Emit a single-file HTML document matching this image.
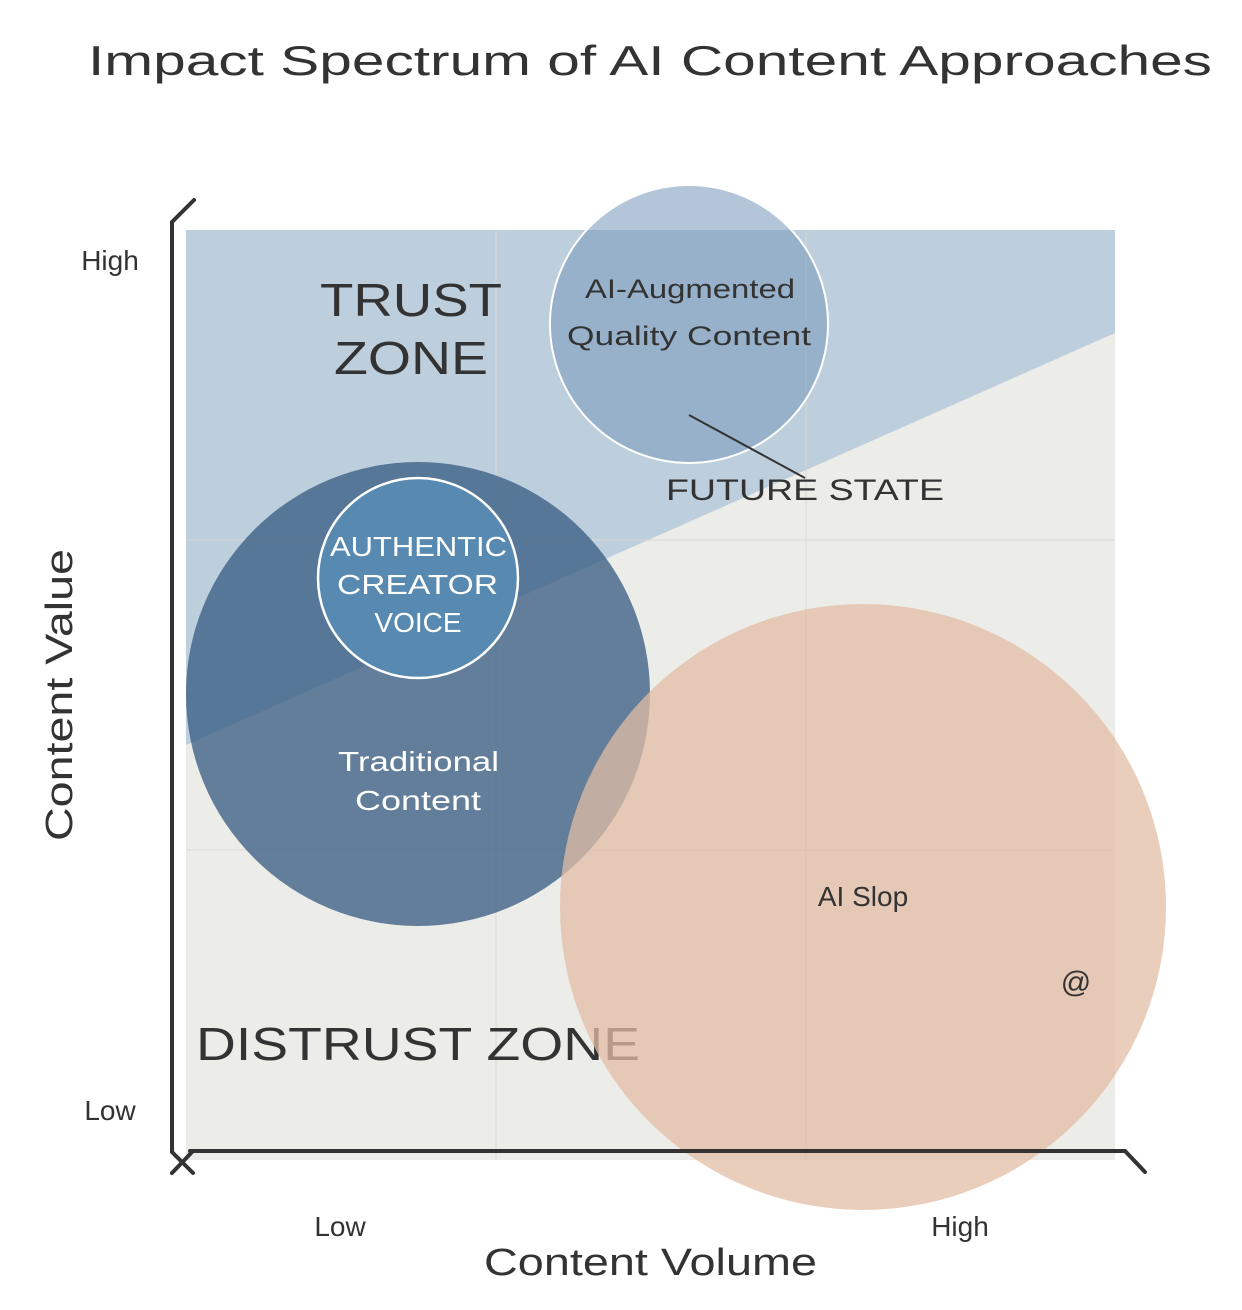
<!DOCTYPE html>
<html><head><meta charset="utf-8"><style>
html,body{margin:0;padding:0;background:#fff;}
svg{display:block;}
text{font-family:"Liberation Sans",sans-serif;fill:#333;}
</style></head><body>
<svg width="1242" height="1310" viewBox="0 0 1242 1310" xmlns="http://www.w3.org/2000/svg">
<rect x="0" y="0" width="1242" height="1310" fill="#fff"/>
<text x="88" y="75" font-size="42" textLength="1124" lengthAdjust="spacingAndGlyphs">Impact Spectrum of AI Content Approaches</text>
<rect x="186" y="230" width="929" height="930" fill="#ecece8"/>
<polygon points="186,230 1115,230 1115,333 186,745" fill="#bdcedd"/>
<g stroke="#d8d8d4" stroke-width="1">
<line x1="496" y1="230" x2="496" y2="1160"/><line x1="806" y1="230" x2="806" y2="1160"/>
<line x1="186" y1="540" x2="1115" y2="540"/><line x1="186" y1="850" x2="1115" y2="850"/>
</g>
<text x="320" y="316" font-size="46" textLength="182" lengthAdjust="spacingAndGlyphs">TRUST</text>
<text x="334" y="374" font-size="46" textLength="154" lengthAdjust="spacingAndGlyphs">ZONE</text>
<text x="196" y="1060" font-size="46" textLength="444" lengthAdjust="spacingAndGlyphs">DISTRUST ZONE</text>
<circle cx="689" cy="324" r="139" fill="#7f9fbf" fill-opacity="0.6" stroke="#fff" stroke-width="2"/>
<text x="585" y="298" font-size="27" textLength="210" lengthAdjust="spacingAndGlyphs">AI-Augmented</text>
<text x="567" y="345" font-size="27" textLength="244" lengthAdjust="spacingAndGlyphs">Quality Content</text>
<line x1="689" y1="415" x2="805" y2="478" stroke="#333" stroke-width="2"/>
<text x="666" y="500" font-size="30" textLength="278" lengthAdjust="spacingAndGlyphs">FUTURE STATE</text>
<circle cx="418" cy="694" r="232" fill="#345a80" fill-opacity="0.75"/>
<circle cx="418" cy="578" r="100" fill="#5889b0" stroke="#fff" stroke-width="2.5"/>
<text x="330" y="556" font-size="28" textLength="177" lengthAdjust="spacingAndGlyphs" style="fill:#fff">AUTHENTIC</text>
<text x="337" y="594" font-size="28" textLength="161" lengthAdjust="spacingAndGlyphs" style="fill:#fff">CREATOR</text>
<text x="418" y="632" font-size="28" text-anchor="middle" style="fill:#fff">VOICE</text>
<text x="338" y="771" font-size="28" textLength="161" lengthAdjust="spacingAndGlyphs" style="fill:#fff">Traditional</text>
<text x="355" y="810" font-size="28" textLength="126" lengthAdjust="spacingAndGlyphs" style="fill:#fff">Content</text>
<circle cx="863" cy="907" r="303" fill="#e3bda5" fill-opacity="0.75"/>
<text x="863" y="906" font-size="28" text-anchor="middle">AI Slop</text>
<text x="1076" y="992" font-size="30" text-anchor="middle">@</text>
<g stroke="#333" stroke-width="4" fill="none" stroke-linecap="round">
<polyline points="194,200 172,222 172,1152 193,1173"/>
<line x1="172" y1="1173" x2="193" y2="1151"/>
<polyline points="190,1151 1125,1151 1145,1172"/>
</g>
<text x="110" y="270" font-size="28" text-anchor="middle">High</text>
<text x="110" y="1120" font-size="28" text-anchor="middle">Low</text>
<text x="340" y="1236" font-size="28" text-anchor="middle">Low</text>
<text x="960" y="1236" font-size="28" text-anchor="middle">High</text>
<text x="484" y="1275" font-size="38" textLength="333" lengthAdjust="spacingAndGlyphs">Content Volume</text>
<text transform="translate(72,695) rotate(-90)" font-size="38" text-anchor="middle" textLength="292" lengthAdjust="spacingAndGlyphs">Content Value</text>
</svg>
</body></html>
